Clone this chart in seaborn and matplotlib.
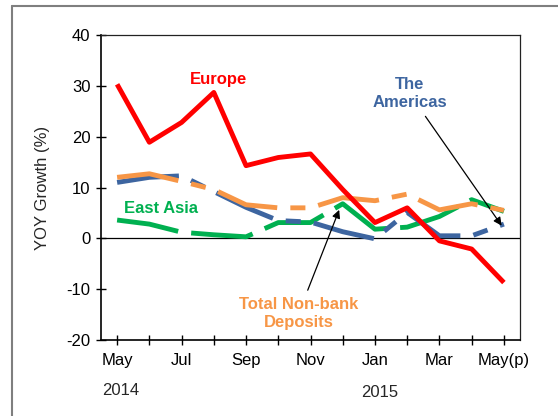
import matplotlib
matplotlib.use("Agg")
import matplotlib.pyplot as plt
from matplotlib.lines import Line2D
import seaborn as sns
import pandas as pd

# month categories (index positions on the x axis)
months = ["May", "Jun", "Jul", "Aug", "Sep", "Oct", "Nov", "Dec",
          "Jan", "Feb", "Mar", "Apr", "May(p)"]
tick_labels = ["May", "", "Jul", "", "Sep", "", "Nov", "", "Jan", "", "Mar", "", "May(p)"]

# YOY growth (%) per series
europe = [30.3, 18.9, 22.8, 28.7, 14.3, 15.9, 16.6, 9.6, 3.1, 6.0, -0.5, -2.1, -8.7]
americas = [11.0, 12.0, 12.3, 9.2, 6.1, 3.5, 3.2, 1.3, -0.1, 5.1, 0.5, 0.5, 2.8]
east_asia = [3.6, 2.8, 1.2, 0.7, 0.3, 3.1, 3.1, 6.8, 1.8, 2.2, 4.3, 7.6, 5.3]
total = [12.0, 12.7, 11.2, 9.6, 6.6, 6.0, 6.0, 8.0, 7.4, 8.7, 5.6, 6.8, 5.5]

RED = "#FF0000"
BLUE = "#3D65A0"
GREEN = "#00B050"
ORANGE = "#F79646"

sns.set_style("ticks")
plt.rcParams["font.family"] = ["Liberation Sans", "DejaVu Sans"]
plt.rcParams["font.size"] = 12
plt.rcParams["axes.unicode_minus"] = False

df = pd.DataFrame({
    "x": range(len(months)),
    "Europe": europe,
    "The Americas": americas,
    "East Asia": east_asia,
    "Total": total,
})

fig = plt.figure(figsize=(5.58, 4.16), dpi=100)
ax = fig.add_axes([101 / 558, 1 - 340 / 416, 419 / 558, 305 / 416])

lw = 3.5
long_dash_dot = (0, (12.8, 2.7, 3.1, 2.7))
long_dash = (0, (12.8, 2.7))

# zero line
ax.axhline(0, color="black", lw=0.9, zorder=1)

# drawing order: green, blue, orange, red on top
series = [
    ("East Asia", GREEN, long_dash),
    ("The Americas", BLUE, long_dash_dot),
    ("Total", ORANGE, long_dash_dot),
    ("Europe", RED, "-"),
]
for i, (name, color, ls) in enumerate(series):
    sns.lineplot(data=df, x="x", y=name, color=color, lw=lw, linestyle=ls,
                 ax=ax, zorder=2 + i)
    ax.lines[-1].set_dash_capstyle("butt")
    ax.lines[-1].set_solid_capstyle("butt")

ax.set_xlim(-0.5, 12.5)
ax.set_ylim(-20, 40)
ax.set_yticks([-20, -10, 0, 10, 20, 30, 40])
ax.set_xticks(range(len(months)))
ax.set_xticklabels(tick_labels)
ax.set_xlabel("")
ax.set_ylabel("YOY Growth (%)", fontsize=12, labelpad=12)
ax.tick_params(axis="both", direction="inout", length=7, width=1, color="black",
               labelsize=12, labelcolor="black")
ax.tick_params(axis="x", pad=6)
ax.tick_params(axis="y", pad=4)
for side in ["left", "bottom"]:
    ax.spines[side].set_color("black")
    ax.spines[side].set_linewidth(1.2)
for side in ["top", "right"]:
    ax.spines[side].set_visible(True)
    ax.spines[side].set_color("#222222")
    ax.spines[side].set_linewidth(0.9)

# year labels under the month labels
trans = ax.get_xaxis_transform()
ax.text(0 - 0.48, -0.165, "2014", transform=trans, ha="left", va="center", fontsize=12)
ax.text(8 - 0.44, -0.172, "2015", transform=trans, ha="left", va="center", fontsize=12)

# series annotations
ax.text(3.16, 31.2, "Europe", color=RED, fontsize=12, fontweight="bold",
        ha="center", va="center")
ax.text(1.37, 5.85, "East Asia", color=GREEN, fontsize=12, fontweight="bold",
        ha="center", va="center")
ax.annotate("The\nAmericas", xy=(11.93, 2.5), xytext=(9.07, 28.5),
            color=BLUE, fontsize=12, fontweight="bold", ha="center", va="center",
            arrowprops=dict(arrowstyle="-|>", color="black", lw=0.9,
                            mutation_scale=12, shrinkA=3, shrinkB=0))
ax.annotate("Total Non-bank\nDeposits", xy=(6.89, 5.6), xytext=(5.63, -14.8),
            color=ORANGE, fontsize=12, fontweight="bold", ha="center", va="center",
            arrowprops=dict(arrowstyle="-|>", color="black", lw=0.9,
                            mutation_scale=12, shrinkA=3, shrinkB=0))

# outer frame of the chart object
fx = 12 / 558
fy = 1 - 6 / 416
fig.add_artist(Line2D([fx, fx], [0, fy], transform=fig.transFigure,
                      color="#7f7f7f", lw=1.5))
fig.add_artist(Line2D([fx, 1], [fy, fy], transform=fig.transFigure,
                      color="#7f7f7f", lw=1.5))

fig.savefig("out.png", dpi=100)
